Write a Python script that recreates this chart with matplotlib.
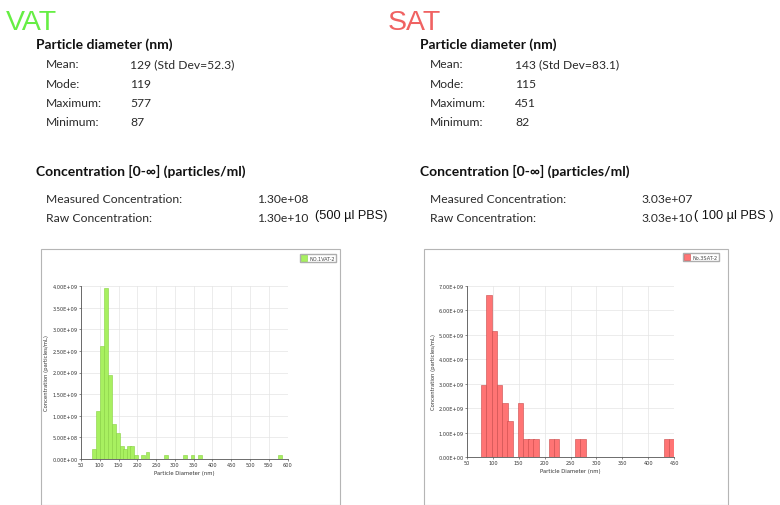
import numpy as np
import matplotlib.pyplot as plt
from matplotlib.patches import Patch, Rectangle
from matplotlib.ticker import FuncFormatter

# VAT histogram (bin centre in nm, concentration in particles/mL)
vat_size = [84, 94.5, 105, 116, 126.5, 137, 147.5, 158, 168, 177, 187, 197, 216, 227, 277, 327, 347, 367, 579]
vat_conc = [0.23e9, 1.12e9, 2.62e9, 3.96e9, 1.94e9, 0.81e9, 0.60e9, 0.31e9, 0.23e9, 0.31e9, 0.31e9,
            0.09e9, 0.09e9, 0.17e9, 0.09e9, 0.09e9, 0.09e9, 0.09e9, 0.09e9]

# SAT histogram
sat_size = [82, 92.5, 103, 113, 123.3, 133.3, 153.6, 163.7, 173.7, 183.7, 213, 223, 263.5, 274, 435, 445]
sat_conc = [2.95e9, 6.65e9, 5.15e9, 2.95e9, 2.2e9, 1.47e9, 2.2e9, 0.73e9, 0.73e9, 0.73e9,
            0.73e9, 0.73e9, 0.73e9, 0.73e9, 0.73e9, 0.73e9]

vat_stats = [("Mean:", "129 (Std Dev=52.3)"), ("Mode:", "119"), ("Maximum:", "577"), ("Minimum:", "87")]
sat_stats = [("Mean:", "143 (Std Dev=83.1)"), ("Mode:", "115"), ("Maximum:", "451"), ("Minimum:", "82")]
vat_conc_txt = [("Measured Concentration:", "1.30e+08"), ("Raw Concentration:", "1.30e+10")]
sat_conc_txt = [("Measured Concentration:", "3.03e+07"), ("Raw Concentration:", "3.03e+10")]

W, H = 780, 506
fig = plt.figure(figsize=(W / 100, H / 100), dpi=100)
fig.patch.set_facecolor('white')

txt_font = ['Lato', 'DejaVu Sans']


def px(x, y):
    return x / W, 1 - y / H


def put(x, y, s, **kw):
    kw.setdefault('family', txt_font)
    kw.setdefault('va', 'center')
    fig.text(*px(x, y), s, **kw)


def text_block(x0, xval, xcol2, title_x, title_color, title, stats, conc, pbs, pbs_x):
    put(title_x, 23, title, fontsize=20.5, color=title_color,
        family=['Liberation Sans', 'DejaVu Sans'])
    put(x0, 45, "Particle diameter (nm)", fontsize=10, fontweight='bold', color='#111111')
    for i, (lab, val) in enumerate(stats):
        yy = 65 + i * 19.3
        put(x0 + 10, yy, lab, fontsize=8.7, color='#2a2a2a')
        put(xval, yy, val, fontsize=8.7, color='#2a2a2a')
    put(x0, 171, "Concentration [0-\u221e] (particles/ml)", fontsize=10, fontweight='bold', color='#111111')
    for i, (lab, val) in enumerate(conc):
        yy = 199.5 + i * 19
        put(x0 + 10, yy, lab, fontsize=8.7, color='#2a2a2a')
        put(xcol2, yy, val, fontsize=8.7, color='#2a2a2a')
    put(pbs_x, 216, pbs, fontsize=9.2, color='#111111', family=['Liberation Sans', 'DejaVu Sans'])


text_block(36, 130, 257, 6, '#66ee44', 'VAT', vat_stats, vat_conc_txt, "(500 \u00b5l PBS)", 315)
text_block(420, 515, 641, 388, '#f06262', 'SAT', sat_stats, sat_conc_txt, "( 100 \u00b5l PBS )", 694)

# chart frames
for (x0, x1) in [(41, 340), (424, 728)]:
    fig.add_artist(Rectangle(px(x0, 506), (x1 - x0) / W, 256 / H, transform=fig.transFigure,
                             fill=False, ec='#b5b5b5', lw=0.8))


def hist_axes(box, sizes, conc, xmax, ymax, fc, ec, legend_label, leg_xy):
    x0, y0, x1, y1 = box
    ax = fig.add_axes([x0 / W, 1 - y1 / H, (x1 - x0) / W, (y1 - y0) / H])
    ax.bar(sizes, conc, width=10.4, color=fc, edgecolor=ec, linewidth=0.4, zorder=3)
    ax.set_xlim(50, xmax)
    ax.set_ylim(0, ymax)
    ax.set_xticks(np.arange(50, xmax + 1, 50))
    ax.set_yticks(np.arange(0, ymax + 1, 0.5e9 if ymax < 5e9 else 1e9))
    ax.yaxis.set_major_formatter(FuncFormatter(lambda v, p: '{:.2E}'.format(v)))
    ax.tick_params(labelsize=3.6, length=1.5, width=0.4, pad=1, colors='#333333')
    ax.grid(True, color='#e4e4e4', lw=0.5, zorder=0)
    for s in ['top', 'right']:
        ax.spines[s].set_visible(False)
    for s in ['left', 'bottom']:
        ax.spines[s].set_linewidth(0.6)
        ax.spines[s].set_color('#555555')
    ax.set_xlabel('Particle Diameter (nm)', fontsize=3.8, labelpad=2, color='#333333')
    ax.set_ylabel('Concentration (particles/mL)', fontsize=3.8, labelpad=2, color='#333333')
    ax.legend(handles=[Patch(fc=fc, ec=ec, lw=0.4)], labels=[legend_label], loc='center',
              bbox_to_anchor=px(*leg_xy), bbox_transform=fig.transFigure, fontsize=3.6,
              frameon=True, fancybox=False, edgecolor='#999999', handlelength=1.2,
              handleheight=1.2, handletextpad=0.4, borderpad=0.3, labelcolor='#444444')
    return ax


hist_axes((81, 287, 287.5, 460), vat_size, vat_conc, 600, 4e9, '#a8f060', '#86d040', 'NO.1VAT-2', (318, 259))
hist_axes((467, 287, 674, 458), sat_size, sat_conc, 450, 7e9, '#ff7474', '#c84848', 'No.3SAT-2', (701, 258))

fig.savefig('out.png', dpi=100)
